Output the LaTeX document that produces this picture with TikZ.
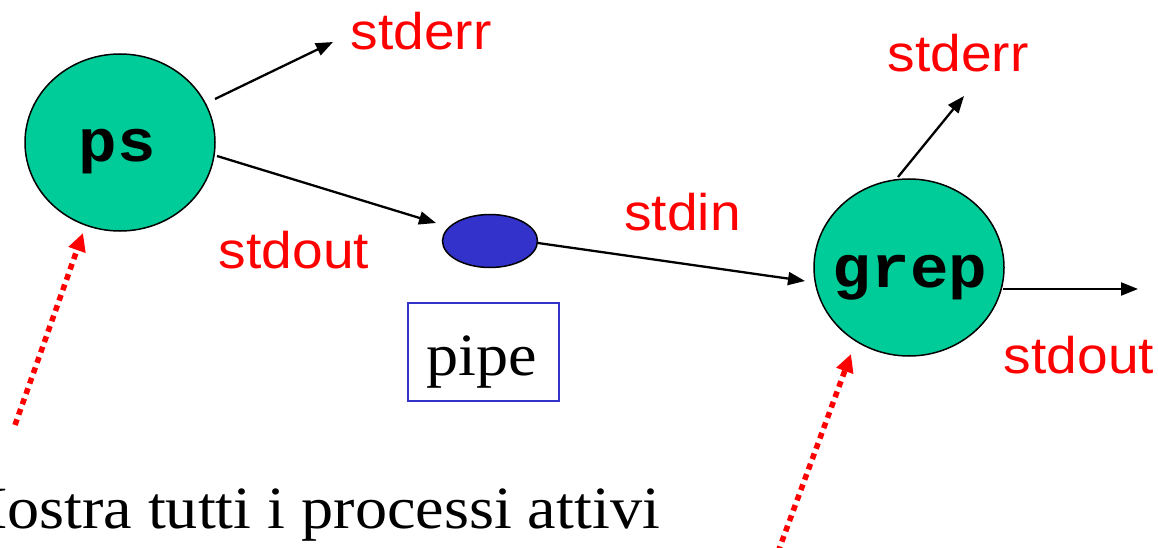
\documentclass[tikz,border=0pt]{standalone}
\usepackage{fontspec}
\usepackage{graphicx}
\setmainfont{Liberation Serif}
\newfontfamily\lsans{Liberation Sans}
\newfontfamily\lmono{Liberation Mono}
\usetikzlibrary{arrows.meta,shapes.geometric}
\definecolor{proc}{HTML}{00CC99}
\definecolor{pipeblue}{HTML}{3333CC}
\tikzset{
  procnode/.style={ellipse, draw=black, line width=1.5pt, fill=proc, minimum width=190pt, minimum height=177pt, inner sep=0pt},
  proclabel/.style={anchor=base, inner sep=0pt, font=\lmono\bfseries\fontsize{60}{70}\selectfont},
  redlabel/.style={anchor=base, inner sep=0pt, text=red, font=\lsans\fontsize{51.5}{60}\selectfont},
  serlabel/.style={anchor=base, inner sep=0pt, font=\fontsize{60}{70}\selectfont},
  flow/.style={line width=2.3pt, -{Triangle[length=17pt,width=13pt]}},
  hint/.style={red, line width=5.5pt, dash pattern=on 6pt off 5pt, -{Triangle[length=18pt,width=17pt]}}
}
\begin{document}
\begin{tikzpicture}[x=1pt,y=-1pt]
\useasboundingbox (0,0) rectangle (1158,548);
% processes
\node[procnode] (ps) at (120,142.5) {};
\node[procnode] (grep) at (909,267.5) {};
\node[proclabel] (pst) at (117.5,162) {\scalebox{1.07}[1]{ps}};
\node[proclabel] (grept) at (910,287) {\scalebox{1.07}[1]{grep}};
% pipe
\node[ellipse, draw=black, line width=1.5pt, fill=pipeblue, minimum width=95pt, minimum height=53pt, inner sep=0pt] (pipe) at (490,241) {};
\node[draw=pipeblue, line width=1.5pt, minimum width=151pt, minimum height=98pt, inner sep=0pt] (pipebox) at (483.5,352) {};
\node[serlabel] (pipet) at (481.5,375) {\scalebox{1.07}[1]{pipe}};
% labels
\node[redlabel] (err1) at (421,50) {\scalebox{1.07}[1]{stderr}};
\node[redlabel] (out1) at (294,268) {\scalebox{1.07}[1]{stdout}};
\node[redlabel] (in2) at (682.5,230) {\scalebox{1.07}[1]{stdin}};
\node[redlabel] (err2) at (958,72) {\scalebox{1.07}[1]{stderr}};
\node[redlabel] (out2) at (1079,373) {\scalebox{1.07}[1]{stdout}};
\node[serlabel] (note) at (305,528) {\scalebox{1.07}[1]{Mostra tutti i processi attivi}};
% connector ends
\coordinate (psA) at (215,99);
\coordinate (psAend) at (333,42);
\coordinate (psB) at (217,156);
\coordinate (pipeIn) at (436,223);
\coordinate (pipeOut) at (538,243);
\coordinate (grepIn) at (805,281);
\coordinate (grepA) at (898,177);
\coordinate (grepAend) at (964,96);
\coordinate (grepB) at (1003,289);
\coordinate (grepBend) at (1138,289);
\coordinate (h1s) at (15,425);
\coordinate (h1e) at (83,233);
\coordinate (h2s) at (778,552);
\coordinate (h2e) at (851,354);
% flows
\draw[flow] (psA) -- (psAend);
\draw[flow] (psB) -- (pipeIn);
\draw[flow] (pipeOut) -- (grepIn);
\draw[flow] (grepA) -- (grepAend);
\draw[flow] (grepB) -- (grepBend);
% hints
\draw[hint] (h1s) -- (h1e);
\draw[hint] (h2s) -- (h2e);
\end{tikzpicture}
\end{document}
